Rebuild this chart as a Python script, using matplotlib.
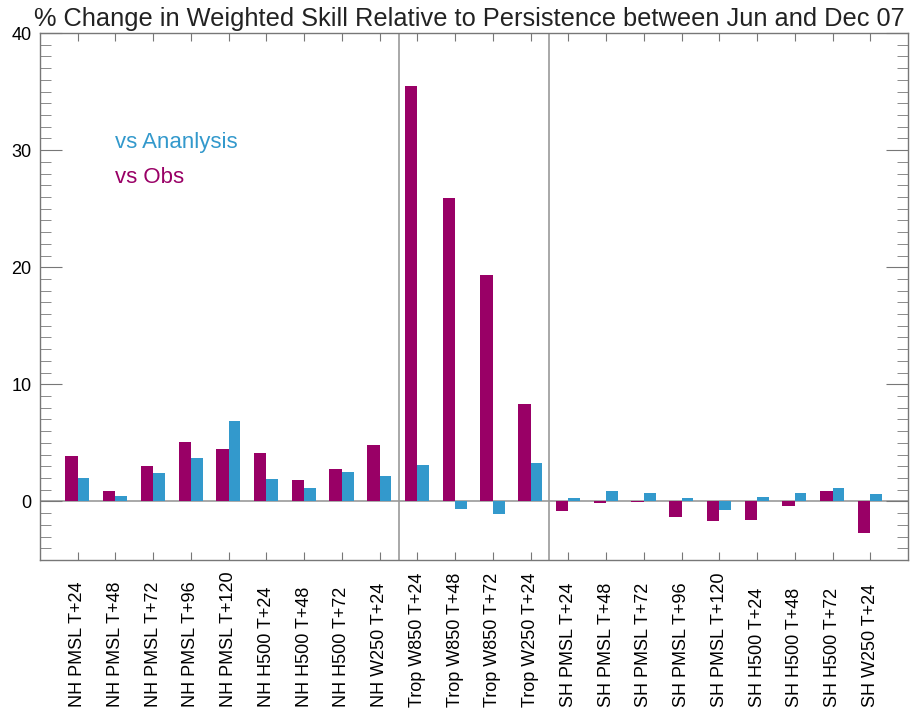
import matplotlib.pyplot as plt
import numpy as np
from matplotlib.ticker import MultipleLocator

plt.rcParams['font.family'] = ['Liberation Sans', 'DejaVu Sans']

labels = ['NH PMSL T+24', 'NH PMSL T+48', 'NH PMSL T+72', 'NH PMSL T+96', 'NH PMSL T+120',
          'NH H500 T+24', 'NH H500 T+48', 'NH H500 T+72', 'NH W250 T+24',
          'Trop W850 T+24', 'Trop W850 T+48', 'Trop W850 T+72', 'Trop W250 T+24',
          'SH PMSL T+24', 'SH PMSL T+48', 'SH PMSL T+72', 'SH PMSL T+96', 'SH PMSL T+120',
          'SH H500 T+24', 'SH H500 T+48', 'SH H500 T+72', 'SH W250 T+24']
vs_obs = [3.85, 0.9, 3.0, 5.05, 4.45, 4.15, 1.85, 2.8, 4.8,
          35.5, 25.9, 19.35, 8.3,
          -0.85, -0.12, -0.05, -1.3, -1.7, -1.55, -0.42, 0.85, -2.7]
vs_anal = [1.98, 0.45, 2.43, 3.75, 6.85, 1.92, 1.18, 2.52, 2.2,
           3.1, -0.68, -1.03, 3.3,
           0.33, 0.85, 0.73, 0.33, -0.69, 0.39, 0.7, 1.18, 0.65]

purple = '#990066'
blue = '#3399cc'

fig = plt.figure(figsize=(9.16, 7.16), dpi=100)
ax = fig.add_axes([40/916, 156/716, 868/916, 527/716])

x = np.arange(1, len(labels) + 1)
ax.axhline(0, color='#999999', lw=1.2, zorder=1)
ax.axvline(9.5, color='#999999', lw=1.2, zorder=1)
ax.axvline(13.5, color='#999999', lw=1.2, zorder=1)
ax.bar(x, vs_obs, width=-0.33, align='edge', color=purple, zorder=2)
ax.bar(x, vs_anal, width=0.31, align='edge', color=blue, zorder=2)

ax.set_xlim(0, 23)
ax.set_ylim(-5, 40)
ax.set_xticks(x)
ax.set_xticklabels(labels, rotation=90, va='bottom', ha='center', fontsize=13)
ax.set_xticks([5, 10, 15, 20], minor=True)
ax.yaxis.set_major_locator(MultipleLocator(10))
ax.yaxis.set_minor_locator(MultipleLocator(1))
ax.tick_params(axis='x', which='major', direction='in', length=6, top=True, pad=106, color='#777777')
ax.tick_params(axis='x', which='minor', direction='in', length=12, top=True, color='#777777')
ax.tick_params(axis='y', which='major', direction='in', length=16, right=True, labelsize=13, pad=6, color='#777777')
ax.tick_params(axis='y', which='minor', direction='in', length=8, right=True, color='#777777')
for s in ax.spines.values():
    s.set_color('#777777')
    s.set_linewidth(1.0)

ax.text(2.0, 30.2, 'vs Ananlysis', color=blue, fontsize=16, va='baseline')
ax.text(2.0, 27.2, 'vs Obs', color=purple, fontsize=16, va='baseline')

fig.text(469/916, 1 - 26/716, '% Change in Weighted Skill Relative to Persistence between Jun and Dec 07',
         ha='center', va='baseline', fontsize=18.3, color='#222222')

fig.savefig('out.png', dpi=100)
